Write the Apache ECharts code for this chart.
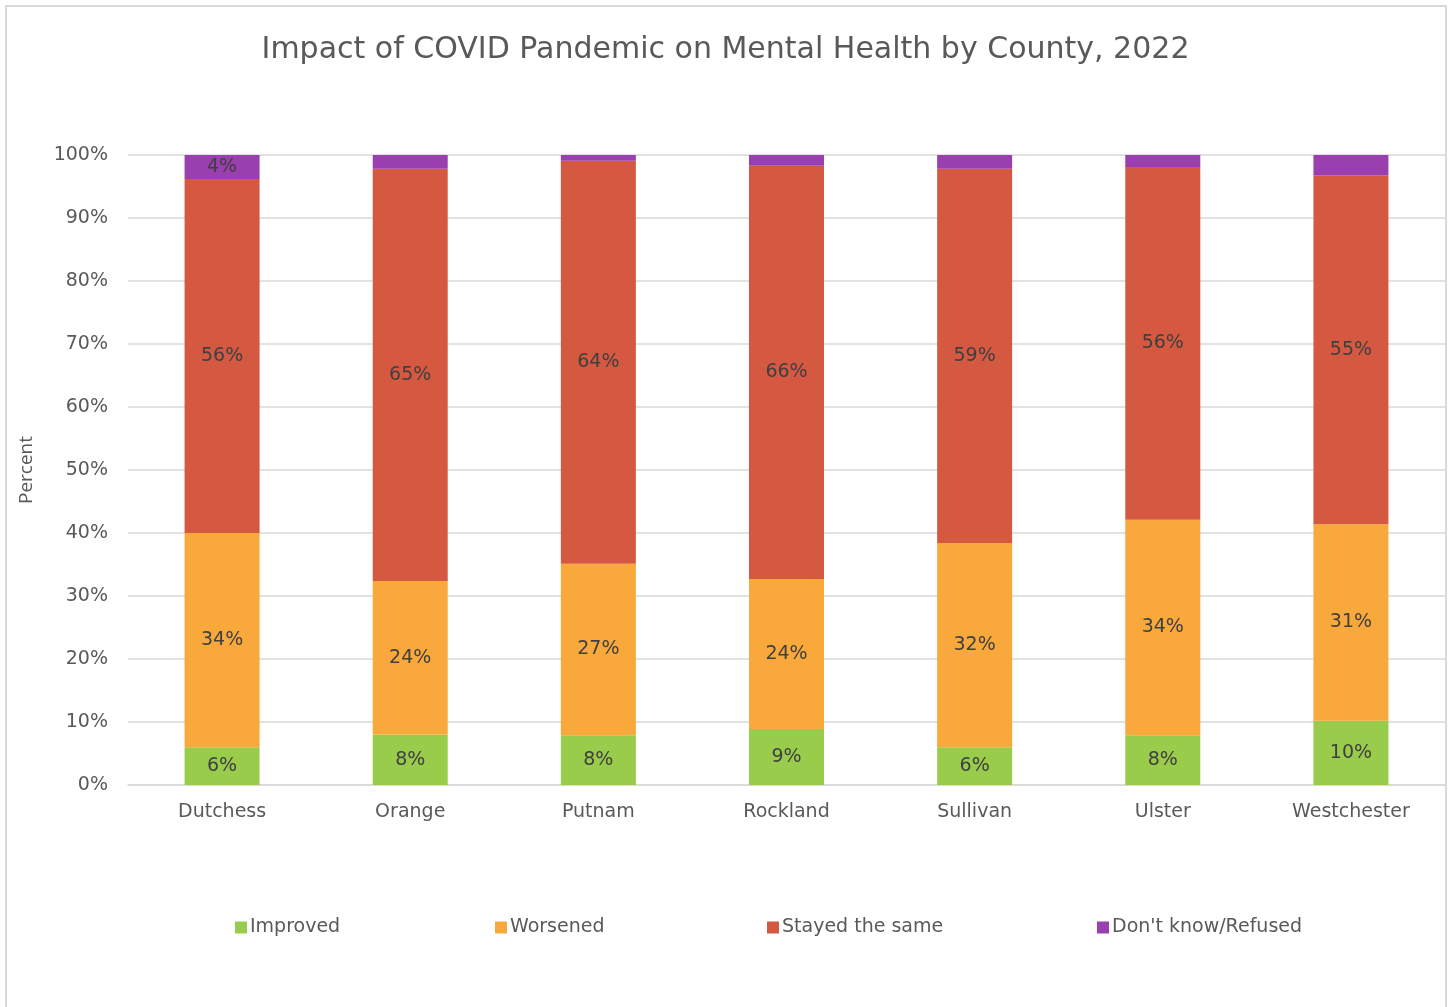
<!DOCTYPE html>
<html>
<head>
<meta charset="utf-8">
<script src="https://cdn.jsdelivr.net/npm/echarts@6/dist/echarts.min.js"></script>
<style>html,body{margin:0;padding:0;background:#fff;}#c{width:1451px;height:1007px;}</style>
</head>
<body>
<div id="c"></div>
<script>
const categories = ['Dutchess', 'Orange', 'Putnam', 'Rockland', 'Sullivan', 'Ulster', 'Westchester'];
const improved = [6.0, 8.0, 7.9, 8.9, 6.0, 7.9, 10.2];
const worsened = [34.0, 24.4, 27.2, 23.8, 32.4, 34.2, 31.2];
const stayedSame = [56.2, 65.4, 64.0, 65.6, 59.4, 56.0, 55.4];
const dontKnow = [3.8, 2.2, 0.9, 1.7, 2.2, 1.9, 3.2];
const seriesNames = ['Improved', 'Worsened', 'Stayed the same', "Don't know/Refused"];
const colors = ['#99cc4b', '#f9a83b', '#d45940', '#993fb0'];
const yTicks = [0, 10, 20, 30, 40, 50, 60, 70, 80, 90, 100];

const FONT = '"DejaVu Sans", sans-serif';
const chart = echarts.init(document.getElementById('c'), null, {renderer: 'canvas'});
const dataSets = [improved, worsened, stayedSame, dontKnow];
const legendX = [230, 490, 762, 1092];

const series = dataSets.map((d, i) => ({
  name: seriesNames[i],
  type: 'bar',
  stack: 'total',
  barWidth: 75,
  data: d,
  itemStyle: {color: colors[i]},
  label: {
    show: true,
    position: 'inside',
    color: '#404040',
    fontFamily: FONT,
    fontSize: 19,
    formatter: p => (p.value >= 3.5 ? Math.round(p.value) + '%' : '')
  }
}));

chart.setOption({
  animation: false,
  backgroundColor: '#fff',
  title: {
    text: 'Impact of COVID Pandemic on Mental Health by County, 2022',
    left: 'center',
    top: 30,
    textStyle: {color: '#595959', fontFamily: FONT, fontSize: 30, fontWeight: 'normal'}
  },
  legend: legendX.map((x, i) => ({
    data: [seriesNames[i]],
    left: x,
    top: 913,
    itemWidth: 12,
    itemHeight: 12,
    itemGap: 4,
    icon: 'rect',
    textStyle: {color: '#595959', fontFamily: FONT, fontSize: 19, padding: [0, 0, 0, -2]}
  })),
  grid: {left: 128, right: 6, top: 155, bottom: 222},
  xAxis: {
    type: 'category',
    data: categories,
    axisLine: {lineStyle: {color: '#d9d9d9', width: 1.5}},
    axisTick: {show: false},
    axisLabel: {color: '#595959', fontFamily: FONT, fontSize: 19, margin: 18}
  },
  yAxis: {
    type: 'value',
    min: yTicks[0],
    max: yTicks[yTicks.length - 1],
    interval: 10,
    name: 'Percent',
    nameLocation: 'middle',
    nameGap: 92,
    nameTextStyle: {color: '#595959', fontFamily: '"Open Sans", sans-serif', fontSize: 19},
    axisLine: {show: false},
    axisTick: {show: false},
    splitLine: {lineStyle: {color: '#d9d9d9', width: 1.5}},
    axisLabel: {color: '#595959', fontFamily: FONT, fontSize: 19, margin: 20, formatter: '{value}%'}
  },
  graphic: [{
    type: 'rect',
    shape: {x: 6, y: 6, width: 1440, height: 1010},
    style: {fill: 'none', stroke: '#d9d9d9', lineWidth: 2},
    silent: true
  }],
  series: series
});
</script>
</body>
</html>
